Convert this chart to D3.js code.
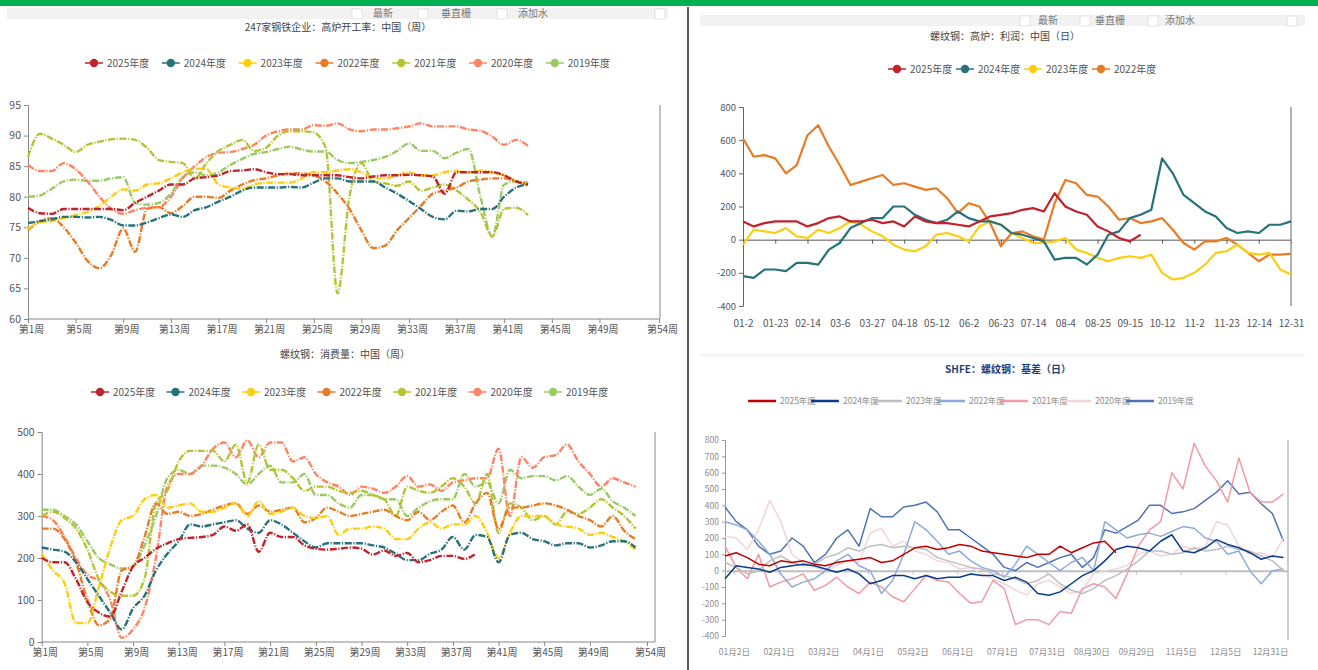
<!DOCTYPE html>
<html>
<head>
<meta charset="utf-8">
<script src="https://cdn.jsdelivr.net/npm/d3@7"></script>
<style>
body { margin: 0; background: #fff; }
text { font-family: "Noto Sans CJK SC", "Noto Sans", sans-serif; }
</style>
</head>
<body>
<svg id="chart" width="1318" height="670"></svg>
<script>
// ---- shared labels ----
var years7 = ["2025年度", "2024年度", "2023年度", "2022年度", "2021年度", "2020年度", "2019年度"];
var years4 = ["2025年度", "2024年度", "2023年度", "2022年度"];
var weekTicks = [1, 5, 9, 13, 17, 21, 25, 29, 33, 37, 41, 45, 49, 54];
var palette = ["#c1232b", "#27727b", "#fcce10", "#e87c25", "#b5c334", "#fe8463", "#9bca63"];
var basisColors = ["#c00000", "#0d3a8c", "#bfbfbf", "#8eaadb", "#f29aa5", "#f2d5d8", "#4f72b3"];

// ---- 247家钢铁企业：高炉开工率 (weeks 1..43) ----
var rate2025 = [78.2, 77.3, 77.2, 78, 78, 78, 78, 78, 77.8, 79, 80, 81, 82, 82, 83, 83.2, 83.5, 84.2, 84.3, 84.5, 84, 83.7, 83.7, 83.5, 83.5, 83.5, 83.5, 83.2, 83, 83.3, 83.5, 83.5, 83.6, 83.5, 83.3, 80.5, 84, 84, 84, 84, 83.5, 82.5, 82];
var rate2024 = [75.7, 76, 76.3, 76.7, 76.7, 76.6, 76.7, 76.2, 75.3, 75.3, 75.8, 76.5, 77.1, 76.7, 77.8, 78.3, 79.2, 80, 81, 81.5, 81.5, 81.5, 81.6, 81.5, 82.3, 83, 83, 82.5, 82.5, 82.5, 81.5, 80.5, 79.3, 78, 76.7, 76.3, 77.7, 77.6, 78, 78, 80, 81.5, 82];
var rate2023 = [74.7, 75.8, 76, 76.5, 77, 77.5, 78.5, 80, 81.2, 81, 82, 82.2, 83, 84, 84.6, 84.5, 82, 81.5, 81.3, 82, 82.3, 82.3, 82.3, 83, 84, 84, 84.3, 84.5, 84, 83, 83, 83.5, 84, 83.5, 83.5, 84, 84.2, 84, 84.3, 84, 83.5, 82.5, 82];
var rate2022 = [74.5, 76, 76.5, 75, 72.5, 69.5, 68.3, 70.5, 74.8, 71, 78, 78.3, 77.3, 78.5, 80, 80, 79.8, 81, 82, 82.7, 83, 83.5, 83.8, 83.8, 83.5, 82.5, 80.5, 78, 74.5, 71.6, 72, 74.5, 76.5, 78.5, 80.5, 81, 81.5, 82.5, 82.8, 83, 83, 82.5, 82];
var rate2021 = [86.5, 90.3, 89.5, 88.5, 87.3, 88.5, 89, 89.4, 89.5, 89.3, 88, 86, 85.7, 85.5, 83, 85.5, 87.5, 88.5, 89.3, 87.5, 88, 90, 90.7, 90.7, 90.5, 88, 64.2, 80, 85.5, 82.5, 82.2, 81.8, 82.5, 81, 81.5, 82, 81, 79.5, 77.5, 73.5, 78, 78.2, 77];
var rate2020 = [85.2, 84.2, 84.2, 85.5, 84.5, 82.5, 80, 78, 77.2, 77.8, 78.2, 78.3, 80, 83, 85, 86.5, 87.2, 87.3, 87.8, 88.5, 90, 90.7, 91, 91, 91.7, 91.6, 92, 91, 90.7, 91, 91, 91.2, 91.5, 92, 91.5, 91.5, 91.5, 91, 90.8, 89.8, 88.5, 89.3, 88.3];
var rate2019 = [80, 80.2, 81.3, 82.5, 82.8, 82.6, 82.6, 83, 83.2, 79, 78.7, 79, 80.5, 83.2, 84, 83.5, 84, 85.2, 86.2, 87, 87.3, 87.8, 88.2, 87.7, 87.4, 87.4, 86, 85.5, 85.7, 86, 86.5, 87.5, 88.7, 87.5, 87.5, 86.3, 87.2, 87.8, 80, 73.5, 82, 82.5, 82.3];

// ---- 螺纹钢：消费量 (weeks 1..53) ----
var use2025 = [200, 190, 190, 150, 95, 70, 60, 120, 180, 200, 222, 235, 245, 248, 250, 255, 275, 265, 280, 215, 260, 250, 250, 230, 222, 220, 222, 225, 222, 208, 218, 205, 212, 190, 195, 205, 205, 198, 210];
var use2024 = [225, 220, 215, 190, 150, 110, 70, 30, 80, 110, 170, 210, 240, 280, 275, 280, 285, 290, 270, 260, 290, 280, 260, 240, 225, 235, 235, 235, 235, 230, 225, 210, 195, 195, 210, 220, 250, 220, 255, 250, 190, 255, 260, 245, 240, 230, 235, 235, 225, 230, 240, 240, 225];
var use2023 = [210, 170, 140, 45, 45, 130, 225, 290, 300, 340, 350, 320, 325, 330, 310, 310, 320, 330, 300, 335, 305, 310, 320, 300, 295, 300, 255, 270, 270, 275, 270, 245, 245, 270, 285, 270, 280, 280, 300, 260, 200, 260, 300, 300, 300, 280, 275, 270, 255, 260, 250, 240, 220];
var use2022 = [270, 270, 245, 190, 100, 40, 55, 170, 180, 250, 330, 305, 310, 300, 305, 315, 325, 330, 305, 325, 310, 315, 320, 285, 295, 320, 310, 300, 305, 310, 315, 300, 290, 310, 290, 310, 325, 285, 330, 355, 270, 320, 320, 325, 330, 325, 315, 300, 290, 275, 300, 265, 245];
var use2021 = [300, 310, 295, 270, 220, 150, 120, 110, 110, 150, 330, 360, 430, 455, 455, 455, 430, 470, 380, 470, 410, 410, 390, 360, 370, 370, 360, 355, 360, 350, 340, 300, 370, 360, 355, 370, 390, 370, 330, 400, 260, 330, 320, 290, 300, 280, 310, 305, 320, 340, 320, 300, 270];
var use2020 = [300, 290, 250, 200, 160, 145, 100, 10, 30, 80, 200, 370, 400, 400, 420, 460, 475, 440, 480, 440, 475, 475, 430, 440, 400, 380, 370, 350, 370, 365, 355, 370, 395, 370, 375, 360, 380, 385, 390, 390, 460, 300, 440, 415, 440, 445, 470, 430, 400, 370, 390, 380, 370];
var use2019 = [315, 315, 300, 280, 240, 200, 185, 175, 180, 230, 300, 390, 410, 400, 420, 420, 415, 400, 375, 400, 420, 380, 380, 400, 350, 350, 330, 320, 350, 350, 340, 340, 300, 320, 335, 340, 340, 400, 370, 380, 330, 410, 390, 395, 395, 385, 395, 370, 350, 365, 335, 320, 300];

// ---- 螺纹钢：高炉：利润 (one value per 7 days) ----
var profitDates = ["01-2", "01-23", "02-14", "03-6", "03-27", "04-18", "05-12", "06-2", "06-23", "07-14", "08-4", "08-25", "09-15", "10-12", "11-2", "11-23", "12-14", "12-31"];
var profitDateIdx = [0, 3, 6, 9, 12, 15, 18, 21, 24, 27, 30, 33, 36, 39, 42, 45, 48, 51];
var profit2025 = [110, 80, 100, 110, 110, 110, 80, 100, 130, 140, 110, 110, 120, 100, 110, 80, 140, 110, 100, 100, 90, 80, 110, 140, 150, 160, 180, 190, 170, 280, 200, 170, 150, 80, 50, 10, -10, 30];
var profit2024 = [-220, -230, -180, -180, -190, -140, -140, -150, -60, -20, 70, 100, 130, 130, 200, 200, 150, 120, 100, 120, 170, 130, 110, 110, 90, 40, 30, 10, -10, -120, -110, -110, -150, -90, 30, 50, 130, 150, 180, 490, 400, 270, 220, 170, 140, 70, 40, 50, 40, 90, 90, 110];
var profit2023 = [-30, 60, 50, 40, 70, 20, 10, 60, 40, 70, 110, 90, 50, 20, -30, -60, -70, -40, 30, 40, 20, -10, 80, 110, 90, 40, 10, -20, -20, -10, 10, -60, -80, -110, -130, -110, -100, -110, -90, -200, -240, -230, -200, -150, -80, -70, -30, -80, -90, -80, -180, -210];
var profit2022 = [610, 500, 510, 490, 400, 450, 630, 690, 560, 450, 330, 350, 370, 390, 330, 340, 320, 300, 310, 250, 160, 220, 200, 100, -40, 40, 50, 20, 0, 220, 360, 340, 270, 260, 200, 120, 130, 100, 110, 130, 60, -20, -60, -10, -10, 10, -30, -80, -130, -90, -90, -85];

// ---- SHFE：螺纹钢：基差 (one value per 5 trading days) ----
var basisDates = ["01月2日", "02月1日", "03月2日", "04月1日", "05月2日", "06月1日", "07月1日", "07月31日", "08月30日", "09月29日", "11月5日", "12月5日", "12月31日"];
var basisDateIdx = [4, 24, 44, 64, 84, 104, 124, 144, 164, 184, 204, 224, 244];
var basis2025 = [90, 110, 80, 40, 30, 60, 50, 60, 40, 30, 50, 60, 70, 80, 50, 60, 100, 140, 150, 130, 140, 160, 150, 120, 110, 100, 90, 80, 100, 100, 150, 110, 140, 170, 180, 110];
var basis2024 = [-50, 30, 20, 10, -10, 20, 30, 40, 30, 10, -10, 10, -20, -80, -60, -30, -30, -50, -30, -50, -40, -40, -20, -30, -30, -60, -40, -70, -140, -150, -130, -80, -30, 0, 60, 130, 150, 140, 120, 180, 220, 120, 110, 140, 190, 160, 140, 110, 70, 90, 80];
var basis2023 = [50, 20, -20, 0, 60, 90, 50, 30, 40, 80, 100, 140, 120, 150, 160, 140, 150, 140, 130, 80, 60, 40, 20, 10, -20, -30, -50, -80, -60, -20, -80, -120, -140, -110, -60, -30, 10, 60, 120, 120, 100, 110, 140, 120, 130, 150, 130, 120, 90, 60, 0];
var basis2022 = [300, 280, 250, 180, 100, -20, -100, -70, -50, 0, 60, 100, 30, 0, -140, -60, 100, 300, 250, 180, 100, 120, 60, 20, 0, -40, 40, 150, 100, 50, 0, 50, 80, 0, 300, 250, 200, 220, 230, 210, 240, 270, 260, 200, 180, 100, 120, 0, -80, 0, 10];
var basis2021 = [150, 20, -50, 100, -100, -70, -50, -20, -120, -90, -40, -100, -140, -70, -100, -160, -190, -110, -30, -60, -70, -140, -200, -190, -60, -110, -330, -300, -300, -330, -250, -260, -110, -80, -100, -170, -20, 150, 250, 300, 600, 500, 780, 640, 550, 420, 690, 480, 420, 420, 470];
var basis2020 = [210, 200, 130, 250, 430, 300, 100, 50, 20, 0, 30, 60, 50, 230, 260, 150, 180, 120, 100, 60, 50, 10, 20, -20, -50, -80, -120, -150, -80, -60, -100, -140, -120, -20, 0, 10, 30, 100, 120, 90, 100, 150, 130, 150, 300, 280, 150, 100, 110, 80, 200];
var basis2019 = [390, 300, 250, 150, 100, 120, 200, 150, 50, 100, 200, 250, 150, 380, 330, 330, 390, 400, 420, 360, 250, 250, 200, 150, 100, 20, 0, 50, 20, 50, 80, 100, 20, 80, 250, 230, 270, 310, 400, 400, 350, 360, 380, 430, 480, 550, 470, 480, 410, 350, 180];


var svg = d3.select("#chart");

// page frame
svg.append("rect").attr("x", 0).attr("y", 0).attr("width", 1318).attr("height", 6).attr("fill", "#00b050");
svg.append("line")
    .attr("x1", 688).attr("x2", 688).attr("y1", 7).attr("y2", 670)
    .attr("stroke", "#222").attr("stroke-width", 1.5);

toolbar(7, 8, 661, 11, [352, 418, 497, 655], [[383, "最新"], [456, "垂直栅"], [533, "添加水"]], 17);
toolbar(700, 15, 605, 11, [1020, 1080, 1148, 1287], [[1048, "最新"], [1110, "垂直栅"], [1180, "添加水"]], 24);
svg.append("rect").attr("x", 700).attr("y", 353).attr("width", 605).attr("height", 4).attr("fill", "#f6f6f6");


// ================= top left =================
var tl = svg.append("g");
var xTL = d3.scaleLinear().domain([1, 54]).range([28, 659]);
var yTL = d3.scaleLinear().domain([60, 95]).range([319, 105]);

title(tl, 338, 31, "247家钢铁企业：高炉开工率：中国（周）", "#444", "normal", 10);
dotLegend(tl, years7, palette, 85, 76.8, 63);
weekAxes(tl, xTL, yTL, d3.range(60, 96, 5), 660);
drawSeries(tl, [rate2019, rate2020, rate2021, rate2022, rate2023, rate2024, rate2025],
  palette.slice().reverse(), xTL, yTL, 1, d3.curveMonotoneX, 2.4, "7,1.6,1.2,1.6");


// ================= bottom left =================
var bl = svg.append("g");
var xBL = d3.scaleLinear().domain([1, 54]).range([41.7, 647]);
var yBL = d3.scaleLinear().domain([0, 500]).range([642, 432]);

title(bl, 345, 358, "螺纹钢：消费量：中国（周）", "#444", "normal", 10);
dotLegend(bl, years7, palette, 91, 75.5, 392);
weekAxes(bl, xBL, yBL, d3.range(0, 501, 100), 655);
drawSeries(bl, [use2019, use2020, use2021, use2022, use2023, use2024, use2025],
  palette.slice().reverse(), xBL, yBL, 1, d3.curveMonotoneX, 2.4, "7,1.6,1.2,1.6");


// ================= top right =================
var tr = svg.append("g");
var xTR = d3.scaleLinear().domain([0, 51]).range([743, 1291]);
var yTR = d3.scaleLinear().domain([-400, 800]).range([306, 107]);

title(tr, 1005, 40, "螺纹钢：高炉：利润：中国（日）", "#444", "normal", 10);
dotLegend(tr, years4, palette, 888, 68, 69);

tr.append("g")
    .attr("transform", "translate(743,0)")
    .call(d3.axisLeft(yTR).tickValues(d3.range(-400, 801, 200)).tickFormat(function(d) { return String(d); }).tickSize(4).tickPadding(3))
    .call(styleAxis, "#666", "#555", 9.5);
tr.append("g")
    .attr("transform", "translate(0," + yTR(0) + ")")
    .call(d3.axisBottom(xTR).tickValues(profitDateIdx).tickFormat(function(d, i) { return profitDates[i]; }).tickSize(4).tickSizeOuter(0))
    .call(styleAxis, "#555", "#555", 10)
    .selectAll("text").attr("y", 306 - yTR(0) + 14);
tr.append("line")
    .attr("x1", 1291).attr("x2", 1291).attr("y1", 107).attr("y2", 306)
    .attr("stroke", "#999").attr("stroke-width", 1.5);
drawSeries(tr, [profit2022, profit2023, profit2024, profit2025],
  [palette[3], palette[2], palette[1], palette[0]], xTR, yTR, 0, d3.curveLinear, 2.2, null);


// ================= bottom right =================
var br = svg.append("g");
var xBR = d3.scaleLinear().domain([0, 252]).range([725, 1288]);
var yBR = d3.scaleLinear().domain([-400, 800]).range([636, 440]);

title(br, 1008, 373, "SHFE：螺纹钢：基差（日）", "#1f3f7a", "bold", 10);
lineLegend(br, years7, basisColors, 748, 63, 401);

br.append("g")
    .attr("transform", "translate(725,0)")
    .call(d3.axisLeft(yBR).tickValues(d3.range(-400, 801, 100)).tickFormat(function(d) { return String(d); }).tickSize(3).tickPadding(3))
    .call(styleAxis, "#999", "#8c8c8c", 8.5);
br.append("g")
    .attr("transform", "translate(0," + yBR(0) + ")")
    .call(d3.axisBottom(xBR).tickValues(basisDateIdx).tickFormat(function(d, i) { return basisDates[i]; }).tickSize(4).tickSizeOuter(0))
    .call(styleAxis, "#bfbfbf", "#8c8c8c", 8.5)
    .call(function(g) { g.select(".domain").attr("stroke-width", 2); })
    .selectAll("text").attr("y", 646 - yBR(0) + 3);
br.append("line")
    .attr("x1", 1288).attr("x2", 1288).attr("y1", 440).attr("y2", 640)
    .attr("stroke", "#bbb").attr("stroke-width", 1.5);
drawSeries(br, [basis2019, basis2020, basis2021, basis2022, basis2023, basis2024, basis2025],
  basisColors.slice().reverse(), xBR, yBR, 0, d3.curveLinear, 1.5, null, 5);


// ---------- helpers ----------
function title(g, x, y, str, color, weight, size) {
  g.append("text")
      .attr("x", x).attr("y", y)
      .attr("text-anchor", "middle")
      .attr("fill", color)
      .attr("font-weight", weight)
      .attr("font-size", size)
      .text(str);
}

function toolbar(x, y, w, h, boxes, labels, ty) {
  svg.append("rect").attr("x", x).attr("y", y).attr("width", w).attr("height", h).attr("fill", "#f2f2f2");
  boxes.forEach(function(bx) {
    svg.append("rect")
        .attr("x", bx).attr("y", y + 1).attr("width", 10).attr("height", h - 1)
        .attr("fill", "#fff").attr("stroke", "#ddd").attr("stroke-width", 0.8);
  });
  labels.forEach(function(l) {
    svg.append("text")
        .attr("x", l[0]).attr("y", ty)
        .attr("text-anchor", "middle")
        .attr("font-size", 10)
        .attr("fill", "#777")
        .text(l[1]);
  });
}

function dotLegend(g, names, colors, x0, step, y) {
  var item = g.append("g").selectAll("g")
      .data(names)
    .enter().append("g")
      .attr("transform", function(d, i) { return "translate(" + (x0 + i * step) + "," + y + ")"; });
  item.append("line")
      .attr("x1", 0).attr("x2", 18).attr("y1", 0).attr("y2", 0)
      .attr("stroke", function(d, i) { return colors[i]; })
      .attr("stroke-width", 1.5);
  item.append("circle")
      .attr("cx", 9).attr("cy", 0).attr("r", 4.2)
      .attr("fill", function(d, i) { return colors[i]; });
  item.append("text")
      .attr("x", 22).attr("y", 3.5)
      .attr("font-size", 10)
      .attr("fill", "#555")
      .text(function(d) { return d; });
}

function lineLegend(g, names, colors, x0, step, y) {
  var item = g.append("g").selectAll("g")
      .data(names)
    .enter().append("g")
      .attr("transform", function(d, i) { return "translate(" + (x0 + i * step) + "," + y + ")"; });
  item.append("line")
      .attr("x1", 0).attr("x2", 28).attr("y1", 0).attr("y2", 0)
      .attr("stroke", function(d, i) { return colors[i]; })
      .attr("stroke-width", 2.5);
  item.append("text")
      .attr("x", 32).attr("y", 3)
      .attr("font-size", 8.5)
      .attr("fill", "#8c8c8c")
      .text(function(d) { return d; });
}

function styleAxis(g, lineColor, textColor, size) {
  g.select(".domain").attr("stroke", lineColor);
  g.selectAll(".tick line").attr("stroke", lineColor);
  g.selectAll("text").attr("fill", textColor).attr("font-size", size).attr("font-family", "Noto Sans CJK SC, Noto Sans, sans-serif");
}

function weekAxes(g, x, y, yTicks, rightX) {
  var r = y.range();
  g.append("g")
      .attr("transform", "translate(" + x.range()[0] + ",0)")
      .call(d3.axisLeft(y).tickValues(yTicks).tickSize(4).tickPadding(3))
      .call(styleAxis, "#888", "#555", 10.5);
  g.append("g")
      .attr("transform", "translate(0," + r[0] + ")")
      .call(d3.axisBottom(x).tickValues(weekTicks).tickFormat(function(d) { return "第" + d + "周"; }).tickSize(4).tickSizeOuter(0))
      .call(styleAxis, "#888", "#555", 10)
      .call(function(a) { a.select(".domain").attr("d", "M" + x.range()[0] + ",0H" + rightX); })
      .selectAll("text").attr("dx", 3).attr("y", 7);
  g.append("line")
      .attr("x1", rightX).attr("x2", rightX).attr("y1", r[1]).attr("y2", r[0])
      .attr("stroke", "#999").attr("stroke-width", 1.2);
}

function drawSeries(g, series, colors, x, y, start, curve, width, dash, step) {
  step = step || 1;
  var line = d3.line()
      .x(function(d, i) { return x(start + i * step); })
      .y(function(d) { return y(d); })
      .curve(curve);
  g.append("g").selectAll("path")
      .data(series)
    .enter().append("path")
      .attr("d", line)
      .attr("fill", "none")
      .attr("stroke", function(d, i) { return colors[i]; })
      .attr("stroke-width", width)
      .attr("stroke-dasharray", dash)
      .attr("stroke-linejoin", "round");
}
</script>
</body>
</html>
